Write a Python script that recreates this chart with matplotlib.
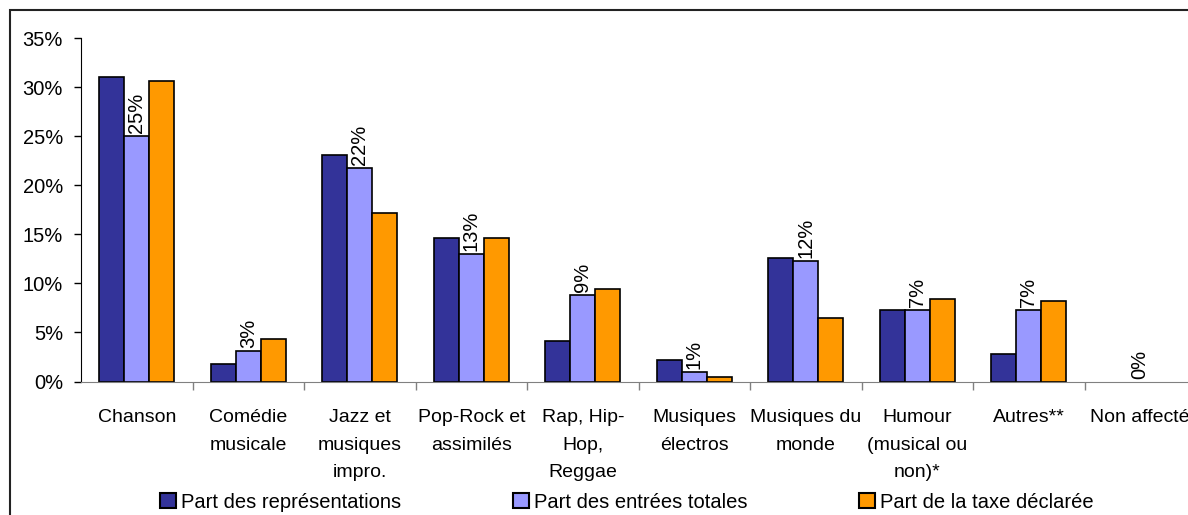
import numpy as np
import matplotlib
matplotlib.use('Agg')
import matplotlib.pyplot as plt
from matplotlib.patches import Rectangle, Patch

# data
categories = ['Chanson', 'Comédie\nmusicale', 'Jazz et\nmusiques\nimpro.', 'Pop-Rock et\nassimilés',
              'Rap, Hip-\nHop,\nReggae', 'Musiques\nélectros', 'Musiques du\nmonde',
              'Humour\n(musical ou\nnon)*', 'Autres**', 'Non affecté']
representations = [31.1, 1.8, 23.1, 14.6, 4.1, 2.2, 12.6, 7.3, 2.8, 0.0]
entrees = [25.0, 3.1, 21.8, 13.0, 8.8, 1.0, 12.3, 7.3, 7.3, 0.0]
taxe = [30.6, 4.3, 17.2, 14.6, 9.4, 0.5, 6.5, 8.4, 8.2, 0.0]
series_names = ['Part des représentations', 'Part des entrées totales', 'Part de la taxe déclarée']
colors = ['#333399', '#9999FF', '#FF9900']

plt.rcParams['font.family'] = ['Liberation Sans', 'DejaVu Sans']
fs = 14.5

fig = plt.figure(figsize=(11.88, 5.15), dpi=100)
ax = fig.add_axes([81 / 1188, 1 - 381.5 / 515, 1115 / 1188, 343.2 / 515])

x = np.arange(len(categories))
w = 0.225
for i, (vals, name, c) in enumerate(zip([representations, entrees, taxe], series_names, colors)):
    lw = [1.2 if v > 0 else 0 for v in vals]
    ax.bar(x + (i - 1) * w, vals, w, color=c, edgecolor='black', linewidth=lw, label=name)

# labels on middle series
for xi, v in zip(x, entrees):
    ax.text(xi, v + 0.3, f'{v:.0f}%', rotation=90, ha='center', va='bottom', fontsize=fs)

ax.set_xlim(-0.5, len(categories) - 0.5)
ax.set_ylim(0, 35)
ax.set_yticks(np.arange(0, 36, 5))
ax.set_yticklabels([f'{t}%' for t in range(0, 36, 5)], fontsize=fs)
ax.set_xticks(x)
ax.set_xticklabels(categories, fontsize=14, linespacing=1.8, va='top')
ax.set_xticks(np.arange(0.5, len(categories) - 0.5, 1), minor=True)
ax.tick_params(axis='x', which='major', length=0, pad=20)
ax.tick_params(axis='x', which='minor', length=6, width=1, color='#808080')
ax.tick_params(axis='y', length=5, width=1, pad=8)
for s in ['top', 'right']:
    ax.spines[s].set_visible(False)
ax.spines['bottom'].set_color('#808080')
ax.spines['left'].set_color('black')

# legend entries placed one by one
leg_x = [160, 513, 859]
for lx, name, c in zip(leg_x, series_names, colors):
    h = Patch(facecolor=c, edgecolor='black', linewidth=1.5)
    lg = fig.legend([h], [name], loc='center left', bbox_to_anchor=(lx / 1188, 1 - 502 / 515),
                    frameon=False, fontsize=fs, handlelength=0.78, handleheight=0.78,
                    handletextpad=0.25, borderpad=0, borderaxespad=0)

# outer frame
fig.patches.append(Rectangle((10 / 1188, -0.1), 1.5, 1.1 - 10 / 515, transform=fig.transFigure,
                             fill=False, edgecolor='#222222', linewidth=1.5))

fig.savefig('out.png', dpi=100)
